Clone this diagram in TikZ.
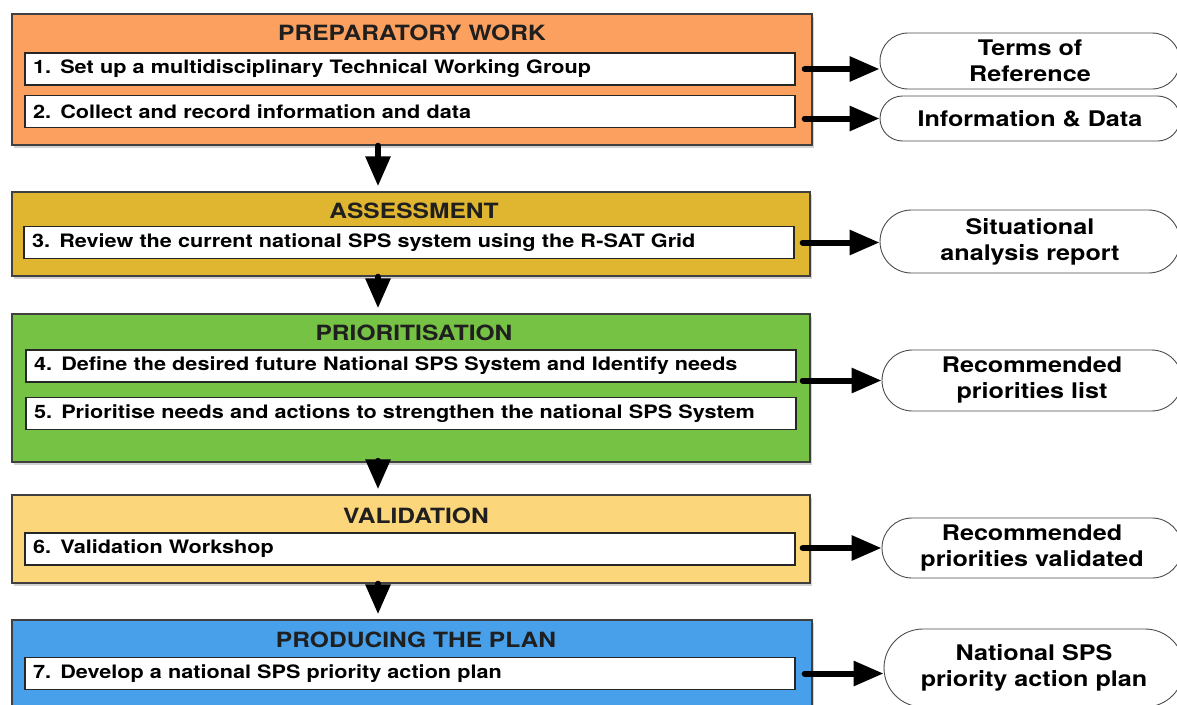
\documentclass[tikz,border=0pt]{standalone}
\usepackage{fontspec}
\setmainfont{TeX Gyre Heros}[FakeStretch=1.17]
\usetikzlibrary{arrows.meta,shapes.misc,shadows}
\definecolor{prepcol}{RGB}{251,160,94}
\definecolor{assesscol}{RGB}{224,181,48}
\definecolor{priocol}{RGB}{118,194,69}
\definecolor{validcol}{RGB}{252,214,122}
\definecolor{plancol}{RGB}{72,160,235}
\begin{document}
\begin{tikzpicture}[x=1pt,y=-1pt]
    \tikzstyle{phase}=[draw=black!75, line width=1.4pt, inner sep=0pt,
                        drop shadow={shadow xshift=2pt, shadow yshift=-3pt, opacity=0.35}]
    \tikzstyle{title}=[font=\bfseries\fontsize{21}{23}\selectfont, text=black!88]
    \tikzstyle{stepbox}=[draw=black!85, fill=white, line width=1.2pt,
                        minimum height=32pt, text width=754pt, inner xsep=8pt,
                        inner ysep=0pt, align=left,
                        font=\bfseries\fontsize{18.5}{20}\selectfont]
    \tikzstyle{output}=[rounded rectangle, draw=black!70, fill=white,
                        line width=0.9pt, minimum width=300pt, inner sep=0pt,
                        align=center, font=\bfseries\fontsize{21.5}{26}\selectfont]
    \tikzstyle{flow}=[line width=6pt, line cap=round,
                        -{Triangle[length=30pt,width=24pt]}]
    \useasboundingbox (0,0) rectangle (1177,704);
    \coordinate (down) at (378,0);

    % phases
    \node[phase, fill=prepcol, minimum width=800pt, minimum height=131pt] (p1) at (412,79.5) {};
    \node[phase, fill=assesscol, minimum width=798pt, minimum height=84pt] (p2) at (411,234) {};
    \node[phase, fill=priocol, minimum width=798pt, minimum height=148pt] (p3) at (411,388) {};
    \node[phase, fill=validcol, minimum width=798pt, minimum height=88pt] (p4) at (411,539) {};
    \node[phase, fill=plancol, minimum width=800pt, minimum height=96pt] (p5) at (412,668) {};

    \node[title] (t1) at (412,33) {PREPARATORY WORK};
    \node[title] (t2) at (414,211) {ASSESSMENT};
    \node[title] (t3) at (414,333) {PRIORITISATION};
    \node[title] (t4) at (416,516) {VALIDATION};
    \node[title] (t5) at (416,640) {PRODUCING THE PLAN};

    % steps
    \node[stepbox] (s1) at (410,69) {1. Set up a multidisciplinary Technical Working Group};
    \node[stepbox] (s2) at (410,111.5) {2. Collect and record information and data};
    \node[stepbox] (s3) at (409,242.5) {3. Review the current national SPS system using the R-SAT Grid};
    \node[stepbox] (s4) at (411,366) {4. Define the desired future National SPS System and Identify needs};
    \node[stepbox] (s5) at (411,413.5) {5. Prioritise needs and actions to strengthen the national SPS System};
    \node[stepbox] (s6) at (410,549) {6. Validation Workshop};
    \node[stepbox] (s7) at (410,673.5) {7. Develop a national SPS priority action plan};

    % outputs
    \node[output, minimum height=56pt] (o1) at (1030,61) {Terms of\\Reference};
    \node[output, minimum height=45pt] (o2) at (1030,118.5) {Information \& Data};
    \node[output, minimum height=63pt] (o3) at (1030,241.5) {Situational\\analysis report};
    \node[output, minimum height=61pt] (o4) at (1032,380.5) {Recommended\\priorities list};
    \node[output, minimum height=60pt] (o5) at (1032,548) {Recommended\\priorities validated};
    \node[output, minimum height=78pt] (o6) at (1034,668) {National SPS\\priority action plan};

    \draw[flow, shorten <=-8pt] (s1.east -| p1.east) -- (s1.east -| o1.west);
    \draw[flow, shorten <=-8pt] (o2.west -| p1.east) -- (o2.west);
    \draw[flow, shorten <=-8pt] (s3.east -| p2.east) -- (s3.east -| o3.west);
    \draw[flow, shorten <=-8pt] (o4.west -| p3.east) -- (o4.west);
    \draw[flow, shorten <=-8pt] (o5.west -| p4.east) -- (o5.west);
    \draw[flow, shorten <=-8pt] (s7.east -| p5.east) -- (s7.east -| o6.west);

    \draw[flow, shorten >=5pt] (p1.south -| down) -- (p2.north -| down);
    \draw[flow, shorten >=5pt] (p2.south -| down) -- (p3.north -| down);
    \draw[flow, shorten >=5pt] (p3.south -| down) -- (p4.north -| down);
    \draw[flow, shorten >=5pt] (p4.south -| down) -- (p5.north -| down);
\end{tikzpicture}
\end{document}
